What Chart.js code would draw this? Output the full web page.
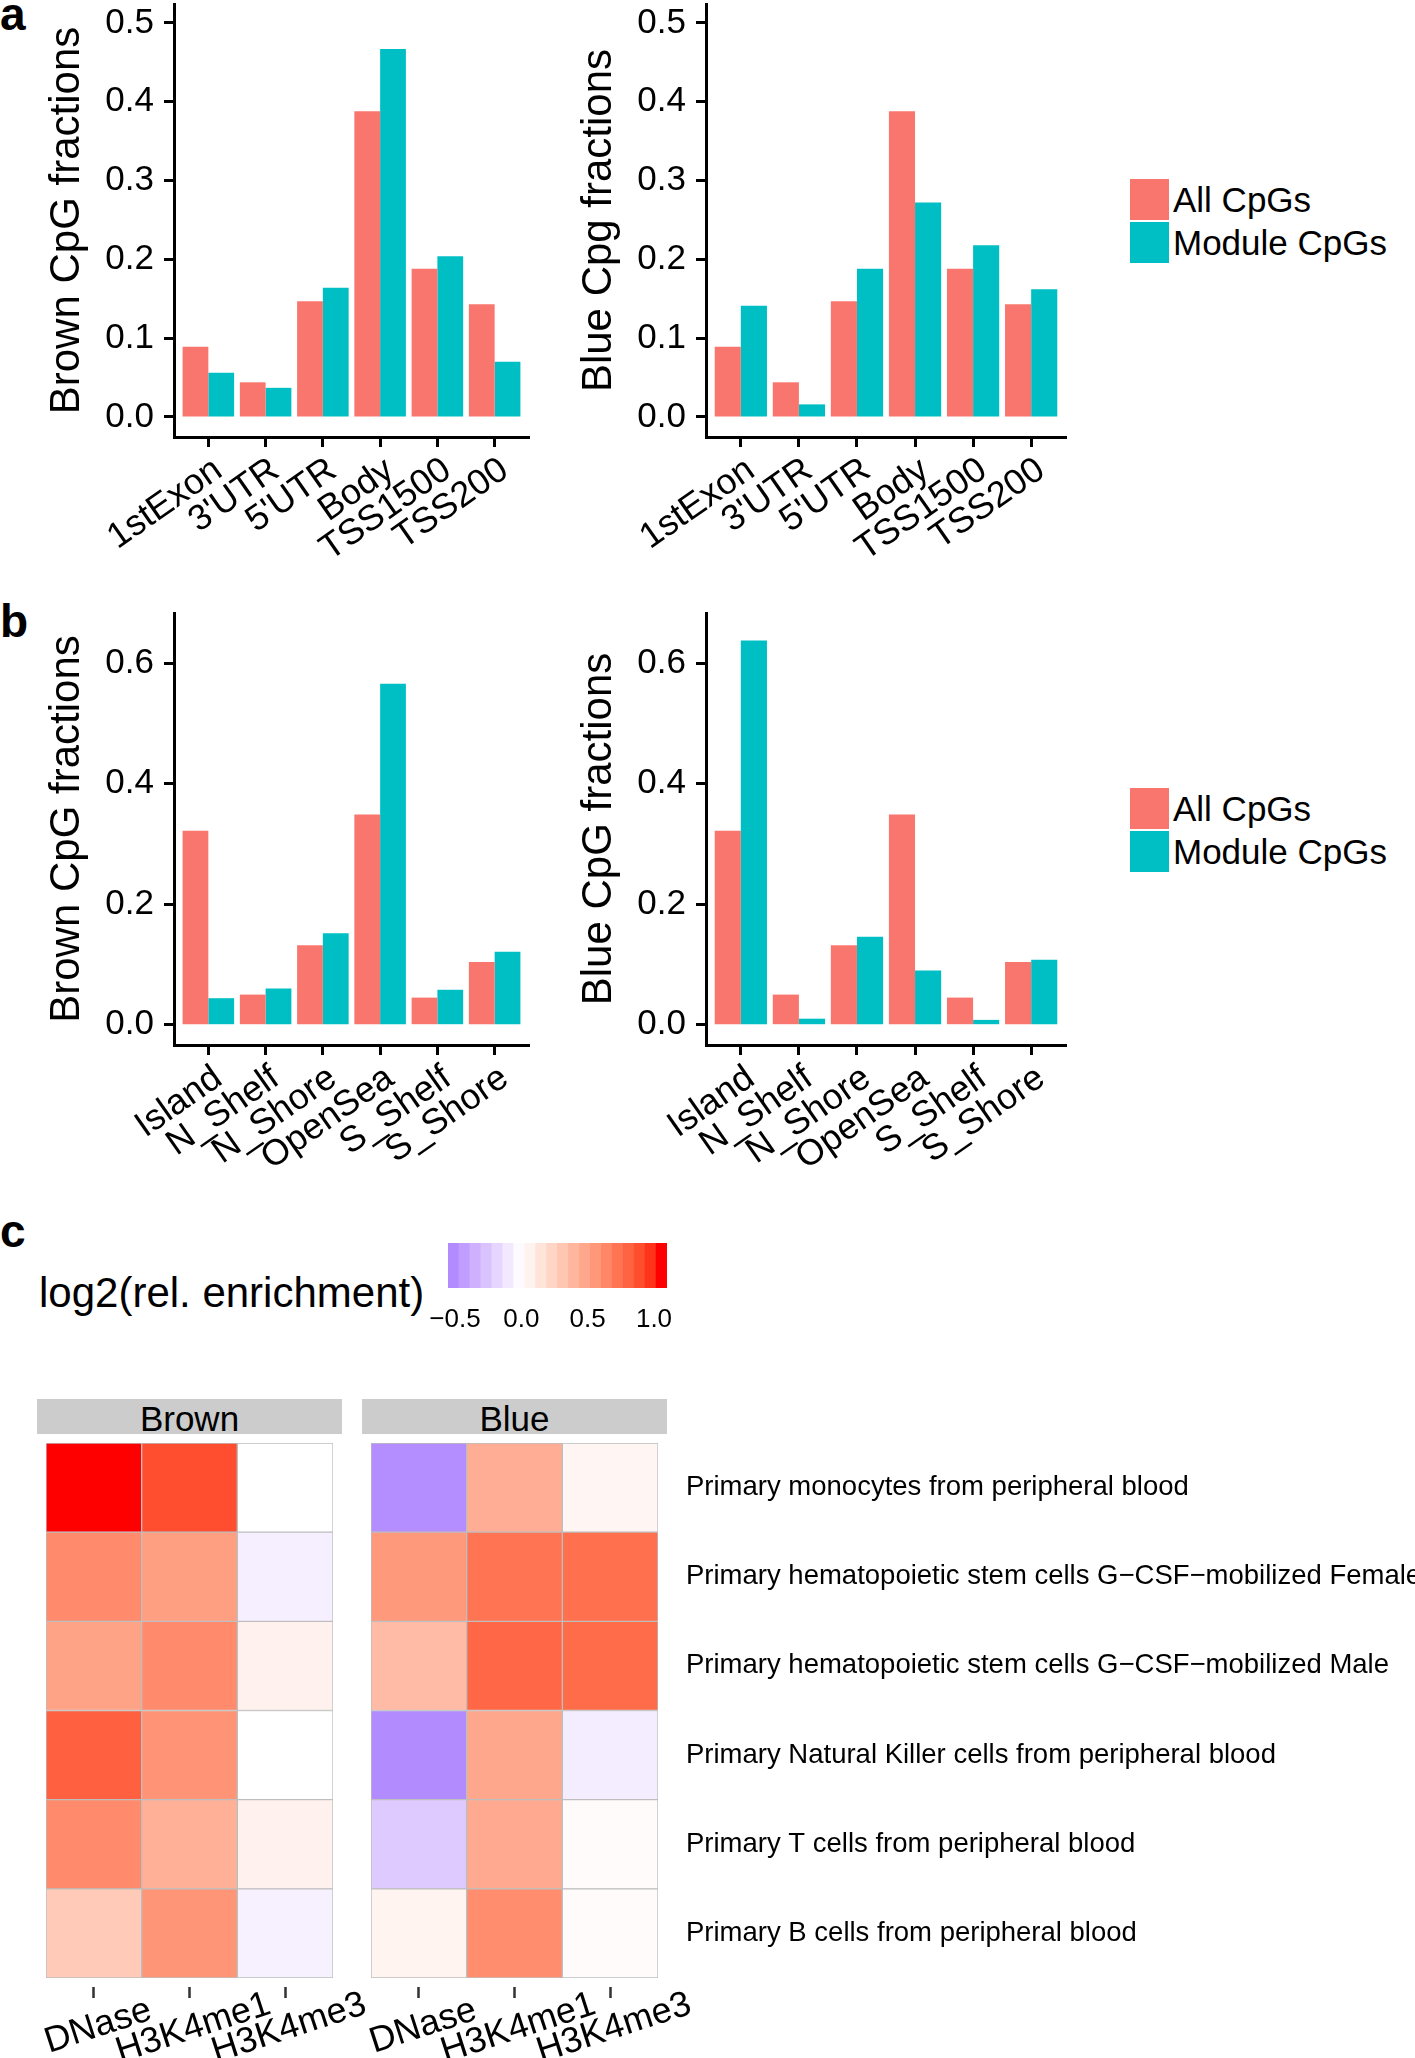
<!DOCTYPE html>
<html>
<head>
<meta charset="utf-8">
<script src="https://cdn.jsdelivr.net/npm/chart.js@4.4.0/dist/chart.umd.min.js"></script>
<style>
body { margin: 0; background: #fff; }
#page { position: relative; width: 1415px; height: 2058px; overflow: hidden; background: #fff;
        font-family: 'Liberation Sans', Arial, Helvetica, sans-serif; color: #000; }
canvas { position: absolute; }
.txt { position: absolute; white-space: nowrap; }
.letter { font-weight: bold; font-size: 46px; line-height: 46px; }
.strip { position: absolute; background: #CCCCCC; text-align: center; font-size: 35px; line-height: 35px; padding-top: 2px; box-sizing: border-box; }
</style>
</head>
<body>
<div id="page">
  <div class="txt letter" style="left:0px; top:-9px;">a</div>
  <div class="txt letter" style="left:0px; top:598px;">b</div>
  <div class="txt letter" style="left:0px; top:1208px;">c</div>

  <canvas id="featBrown" width="560" height="580" style="left:0px; top:0px;"></canvas>
  <canvas id="featBlue" width="560" height="580" style="left:540px; top:0px;"></canvas>
  <canvas id="islBrown" width="560" height="640" style="left:0px; top:580px;"></canvas>
  <canvas id="islBlue" width="560" height="640" style="left:540px; top:580px;"></canvas>

  <div class="txt" style="left:39px; top:1272px; font-size:42px; line-height:42px;">log2(rel. enrichment)</div>
  <canvas id="colorbar" width="290" height="100" style="left:400px; top:1236px;"></canvas>

  <div class="strip" style="left:37px; top:1399px; width:305px; height:35px;">Brown</div>
  <div class="strip" style="left:362px; top:1399px; width:305px; height:35px;">Blue</div>
  <canvas id="heatBrown" width="420" height="622" style="left:-10px; top:1436px;"></canvas>
  <canvas id="heatBlue" width="1103" height="622" style="left:312px; top:1436px;"></canvas>
</div>
<script>
//// data

let seriesNames = ['All CpGs', 'Module CpGs'];
let seriesColors = ['#F8766D', '#00BFC4'];

let featureCats = ['1stExon', "3'UTR", "5'UTR", 'Body', 'TSS1500', 'TSS200'];
let brownFeatureAll = [0.089, 0.044, 0.147, 0.388, 0.188, 0.143];
let brownFeatureModule = [0.056, 0.037, 0.164, 0.467, 0.204, 0.070];
let blueFeatureAll = [0.089, 0.044, 0.147, 0.388, 0.188, 0.143];
let blueFeatureModule = [0.141, 0.016, 0.188, 0.272, 0.218, 0.162];
let featureTicks = [0.0, 0.1, 0.2, 0.3, 0.4, 0.5];

let islandCats = ['Island', 'N_Shelf', 'N_Shore', 'OpenSea', 'S_Shelf', 'S_Shore'];
let brownIslandAll = [0.322, 0.050, 0.132, 0.349, 0.045, 0.104];
let brownIslandModule = [0.044, 0.060, 0.152, 0.566, 0.058, 0.121];
let blueIslandAll = [0.322, 0.050, 0.132, 0.349, 0.045, 0.104];
let blueIslandModule = [0.638, 0.010, 0.146, 0.090, 0.008, 0.108];
let islandTicks = [0.0, 0.2, 0.4, 0.6];

let marks = ['DNase', 'H3K4me1', 'H3K4me3'];
let cellTypes = [
    'Primary monocytes from peripheral blood',
    'Primary hematopoietic stem cells G\u2212CSF\u2212mobilized Female',
    'Primary hematopoietic stem cells G\u2212CSF\u2212mobilized Male',
    'Primary Natural Killer cells from peripheral blood',
    'Primary T cells from peripheral blood',
    'Primary B cells from peripheral blood'
];
// log2(rel. enrichment), rows = cellTypes, cols = marks
let brownEnrich = [
    [1.05, 0.89, 0.00],
    [0.62, 0.52, -0.07],
    [0.50, 0.62, 0.07],
    [0.82, 0.58, 0.00],
    [0.62, 0.43, 0.07],
    [0.29, 0.57, -0.06]
];
let blueEnrich = [
    [-0.50, 0.44, 0.05],
    [0.55, 0.73, 0.75],
    [0.37, 0.79, 0.77],
    [-0.51, 0.48, -0.08],
    [-0.23, 0.46, 0.02],
    [0.06, 0.61, 0.02]
];
let colorbarTicks = [-0.5, 0.0, 0.5, 1.0];
let colorbarRange = [-0.553, 1.098];
let colorbarBins = 20;

/// colour scale (white mid, lab interpolation like ggplot)
let scaleLimits = [-0.55, 1.05];
let lowColor = '#AB82FF';
let highColor = '#FF0000';

function hexToRgb(h) {
    return [parseInt(h.slice(1, 3), 16), parseInt(h.slice(3, 5), 16), parseInt(h.slice(5, 7), 16)];
}

function rgbToLab(c) {
    let lin = c.map(v => { v = v / 255; return v > 0.04045 ? Math.pow((v + 0.055) / 1.055, 2.4) : v / 12.92; });
    let x = (lin[0] * 0.4124 + lin[1] * 0.3576 + lin[2] * 0.1805) / 0.95047;
    let y = lin[0] * 0.2126 + lin[1] * 0.7152 + lin[2] * 0.0722;
    let z = (lin[0] * 0.0193 + lin[1] * 0.1192 + lin[2] * 0.9505) / 1.08883;
    let f = t => t > 0.008856 ? Math.cbrt(t) : 7.787 * t + 16 / 116;
    x = f(x); y = f(y); z = f(z);
    return [116 * y - 16, 500 * (x - y), 200 * (y - z)];
}

function labToRgb(l) {
    let y = (l[0] + 16) / 116;
    let x = l[1] / 500 + y;
    let z = y - l[2] / 200;
    let fi = t => t * t * t > 0.008856 ? t * t * t : (t - 16 / 116) / 7.787;
    x = fi(x) * 0.95047; y = fi(y); z = fi(z) * 1.08883;
    let r = x * 3.2406 - y * 1.5372 - z * 0.4986;
    let g = -x * 0.9689 + y * 1.8758 + z * 0.0415;
    let b = x * 0.0557 - y * 0.2040 + z * 1.0570;
    return [r, g, b].map(v => {
        v = v > 0.0031308 ? 1.055 * Math.pow(v, 1 / 2.4) - 0.055 : 12.92 * v;
        return Math.round(Math.max(0, Math.min(1, v)) * 255);
    });
}

let whiteLab = rgbToLab([255, 255, 255]);
let lowLab = rgbToLab(hexToRgb(lowColor));
let highLab = rgbToLab(hexToRgb(highColor));

function fillColor(v) {
    let end = v < 0 ? lowLab : highLab;
    let t = v < 0 ? v / scaleLimits[0] : v / scaleLimits[1];
    t = Math.max(0, Math.min(1, t));
    let lab = whiteLab.map((w, i) => w + (end[i] - w) * t);
    let c = labToRgb(lab);
    return 'rgb(' + c[0] + ',' + c[1] + ',' + c[2] + ')';
}

Chart.defaults.font.family = "'Liberation Sans', Arial, Helvetica, sans-serif";
Chart.defaults.color = '#000';

/// grouped bar panels (a, b)

function barPanel(id, cats, allVals, modVals, yTitle, yMin, yMax, yTicks, box) {
    let ctx = document.getElementById(id).getContext('2d');
    let toPoints = vals => vals.map((v, i) => ({ x: i + 1, y: v }));
    return new Chart(ctx, {
        type: 'bar',
        data: {
            datasets: [
                { label: seriesNames[0], data: toPoints(allVals), backgroundColor: seriesColors[0],
                  categoryPercentage: 0.9, barPercentage: 1, borderWidth: 0 },
                { label: seriesNames[1], data: toPoints(modVals), backgroundColor: seriesColors[1],
                  categoryPercentage: 0.9, barPercentage: 1, borderWidth: 0 }
            ]
        },
        options: {
            responsive: false,
            animation: false,
            devicePixelRatio: 1,
            layout: { padding: { left: 0, top: box.top, right: box.right, bottom: 0 } },
            plugins: { legend: { display: false }, tooltip: { enabled: false } },
            scales: {
                x: {
                    type: 'linear', min: 0.4, max: cats.length + 0.6, offset: false,
                    afterBuildTicks: s => { s.ticks = cats.map((c, i) => ({ value: i + 1 })); },
                    afterFit: s => { s.height = box.xh; s.paddingLeft = 0; s.paddingRight = 0; },
                    ticks: { callback: v => cats[Math.round(v) - 1], font: { size: 36 }, color: '#000',
                             minRotation: 35, maxRotation: 35, padding: 2, labelOffset: 10, autoSkip: false },
                    grid: { drawOnChartArea: false, offset: false, tickLength: 10, tickWidth: 3, tickColor: '#000' },
                    border: { display: true, color: '#000', width: 3 }
                },
                y: {
                    min: yMin, max: yMax,
                    afterBuildTicks: s => { s.ticks = yTicks.map(v => ({ value: v })); },
                    afterFit: s => { s.width = box.yw; s.paddingTop = 0; s.paddingBottom = 0; },
                    ticks: { callback: v => v.toFixed(1), font: { size: 35 }, color: '#000', padding: 10 },
                    grid: { drawOnChartArea: false, tickLength: 10, tickWidth: 3, tickColor: '#000' },
                    border: { display: true, color: '#000', width: 3 },
                    title: { display: true, text: yTitle, font: { size: 42 }, color: '#000',
                             padding: { top: box.titlePad, bottom: 0 } }
                }
            }
        }
    });
}

/// legends next to the right hand panels
function drawLegend(topY) {
    let page = document.getElementById('page');
    seriesNames.forEach((name, i) => {
        let key = document.createElement('div');
        key.style.cssText = 'position:absolute;left:1130px;width:39px;height:41px;top:' + (topY + i * 43) + 'px;background:' + seriesColors[i];
        page.appendChild(key);
        let label = document.createElement('div');
        label.className = 'txt';
        label.style.cssText = 'left:1173px;font-size:35px;line-height:41px;top:' + (topY + i * 43) + 'px';
        label.textContent = name;
        page.appendChild(label);
    });
}

/// heatmap panels (c)

function heatPanel(id, vals, showNames, box) {
    let ctx = document.getElementById(id).getContext('2d');
    let sets = [];
    for (let r = cellTypes.length - 1; r >= 0; r--) {
        sets.push({
            label: cellTypes[r],
            data: marks.map(() => 1),
            backgroundColor: vals[r].map(fillColor),
            borderColor: '#BEBEBE', borderWidth: 1, borderSkipped: false,
            categoryPercentage: 1, barPercentage: 1, stack: 'cells'
        });
    }
    // labels are centred under the ticks; the short one sits on its own
    // zero-height axis (mirror => not clipped) so it gets a smaller shift
    let tickFont = { size: 36 };
    return new Chart(ctx, {
        type: 'bar',
        data: { labels: marks, datasets: sets },
        options: {
            responsive: false,
            animation: false,
            devicePixelRatio: 1,
            layout: { padding: { left: box.left, top: box.top, right: box.right, bottom: 0 } },
            plugins: { legend: { display: false }, tooltip: { enabled: false } },
            scales: {
                x: {
                    stacked: true, offset: true, weight: 1,
                    afterFit: s => { s.height = box.xh; s.paddingLeft = 0; s.paddingRight = 0; },
                    ticks: { callback: (v, i) => i === 0 ? '' : marks[i], font: tickFont, color: '#000',
                             minRotation: 18, maxRotation: 18, labelOffset: 80, padding: -15, autoSkip: false },
                    grid: { drawOnChartArea: false, offset: false, tickLength: 20, tickWidth: 2.5,
                            tickColor: '#333', tickBorderDash: [0, 9, 11, 40] },
                    border: { display: false }
                },
                x2: {
                    type: 'category', labels: marks, offset: true, position: 'bottom', weight: 0,
                    afterFit: s => { s.height = 0; s.paddingLeft = 0; s.paddingRight = 0; },
                    ticks: { callback: (v, i) => i === 0 ? marks[0] : '', font: tickFont, color: '#000',
                             minRotation: 18, maxRotation: 18, labelOffset: 70, padding: -52,
                             mirror: true, autoSkip: false },
                    grid: { display: false, drawTicks: false },
                    border: { display: false }
                },
                y: {
                    stacked: true, min: 0, max: cellTypes.length, position: 'right', display: showNames,
                    afterBuildTicks: s => { s.ticks = cellTypes.map((n, i) => ({ value: cellTypes.length - i - 0.5 })); },
                    afterFit: s => { s.width = box.yw; s.paddingTop = 0; s.paddingBottom = 0; },
                    ticks: { callback: v => cellTypes[Math.round(cellTypes.length - 0.5 - v)],
                             font: { size: 27.5 }, color: '#000', padding: 28 },
                    grid: { display: false, drawTicks: false },
                    border: { display: false }
                }
            }
        }
    });
}

function colorbarPanel(id, box) {
    let ctx = document.getElementById(id).getContext('2d');
    let step = (colorbarRange[1] - colorbarRange[0]) / colorbarBins;
    let centers = [];
    for (let i = 0; i < colorbarBins; i++) {
        centers.push(colorbarRange[0] + step * (i + 0.5));
    }
    return new Chart(ctx, {
        type: 'bar',
        data: {
            datasets: [{
                data: centers.map(c => ({ x: c, y: 1 })),
                backgroundColor: centers.map(fillColor),
                categoryPercentage: 1, barPercentage: 1, borderWidth: 0
            }]
        },
        options: {
            responsive: false,
            animation: false,
            devicePixelRatio: 1,
            layout: { padding: { left: box.left, top: box.top, right: box.right, bottom: 0 } },
            plugins: { legend: { display: false }, tooltip: { enabled: false } },
            scales: {
                x: {
                    type: 'linear', min: colorbarRange[0], max: colorbarRange[1], offset: false, z: 1,
                    afterBuildTicks: s => { s.ticks = colorbarTicks.map(v => ({ value: v })); },
                    afterFit: s => { s.height = box.xh; s.paddingLeft = 0; s.paddingRight = 0; },
                    ticks: { callback: v => (v < 0 ? '\u2212' : '') + Math.abs(v).toFixed(1),
                             font: { size: 26 }, color: '#000', padding: 16 },
                    grid: { color: '#fff', lineWidth: 2, drawTicks: false, offset: false },
                    border: { display: false, dash: [9, 27] }
                },
                y: { min: 0, max: 1, display: false }
            }
        }
    });
}

barPanel('featBrown', featureCats, brownFeatureAll, brownFeatureModule, 'Brown CpG fractions',
    -0.0254, 0.524, featureTicks, { top: 4, right: 31, xh: 143, yw: 174, titlePad: 42 });
barPanel('featBlue', featureCats, blueFeatureAll, blueFeatureModule, 'Blue Cpg fractions',
    -0.0254, 0.524, featureTicks, { top: 4, right: 34, xh: 143, yw: 166, titlePad: 34 });
barPanel('islBrown', islandCats, brownIslandAll, brownIslandModule, 'Brown CpG fractions',
    -0.0337, 0.6836, islandTicks, { top: 33, right: 31, xh: 175, yw: 174, titlePad: 42 });
barPanel('islBlue', islandCats, blueIslandAll, blueIslandModule, 'Blue CpG fractions',
    -0.0337, 0.6836, islandTicks, { top: 33, right: 34, xh: 175, yw: 166, titlePad: 34 });

drawLegend(179);
drawLegend(788);

colorbarPanel('colorbar', { left: 48, top: 7, right: 23, xh: 48 });
heatPanel('heatBrown', brownEnrich, false, { left: 56, top: 7, right: 77, xh: 80, yw: 0 });
heatPanel('heatBlue', blueEnrich, true, { left: 59, top: 7, right: 0, xh: 80, yw: 757 });
</script>
</body>
</html>
